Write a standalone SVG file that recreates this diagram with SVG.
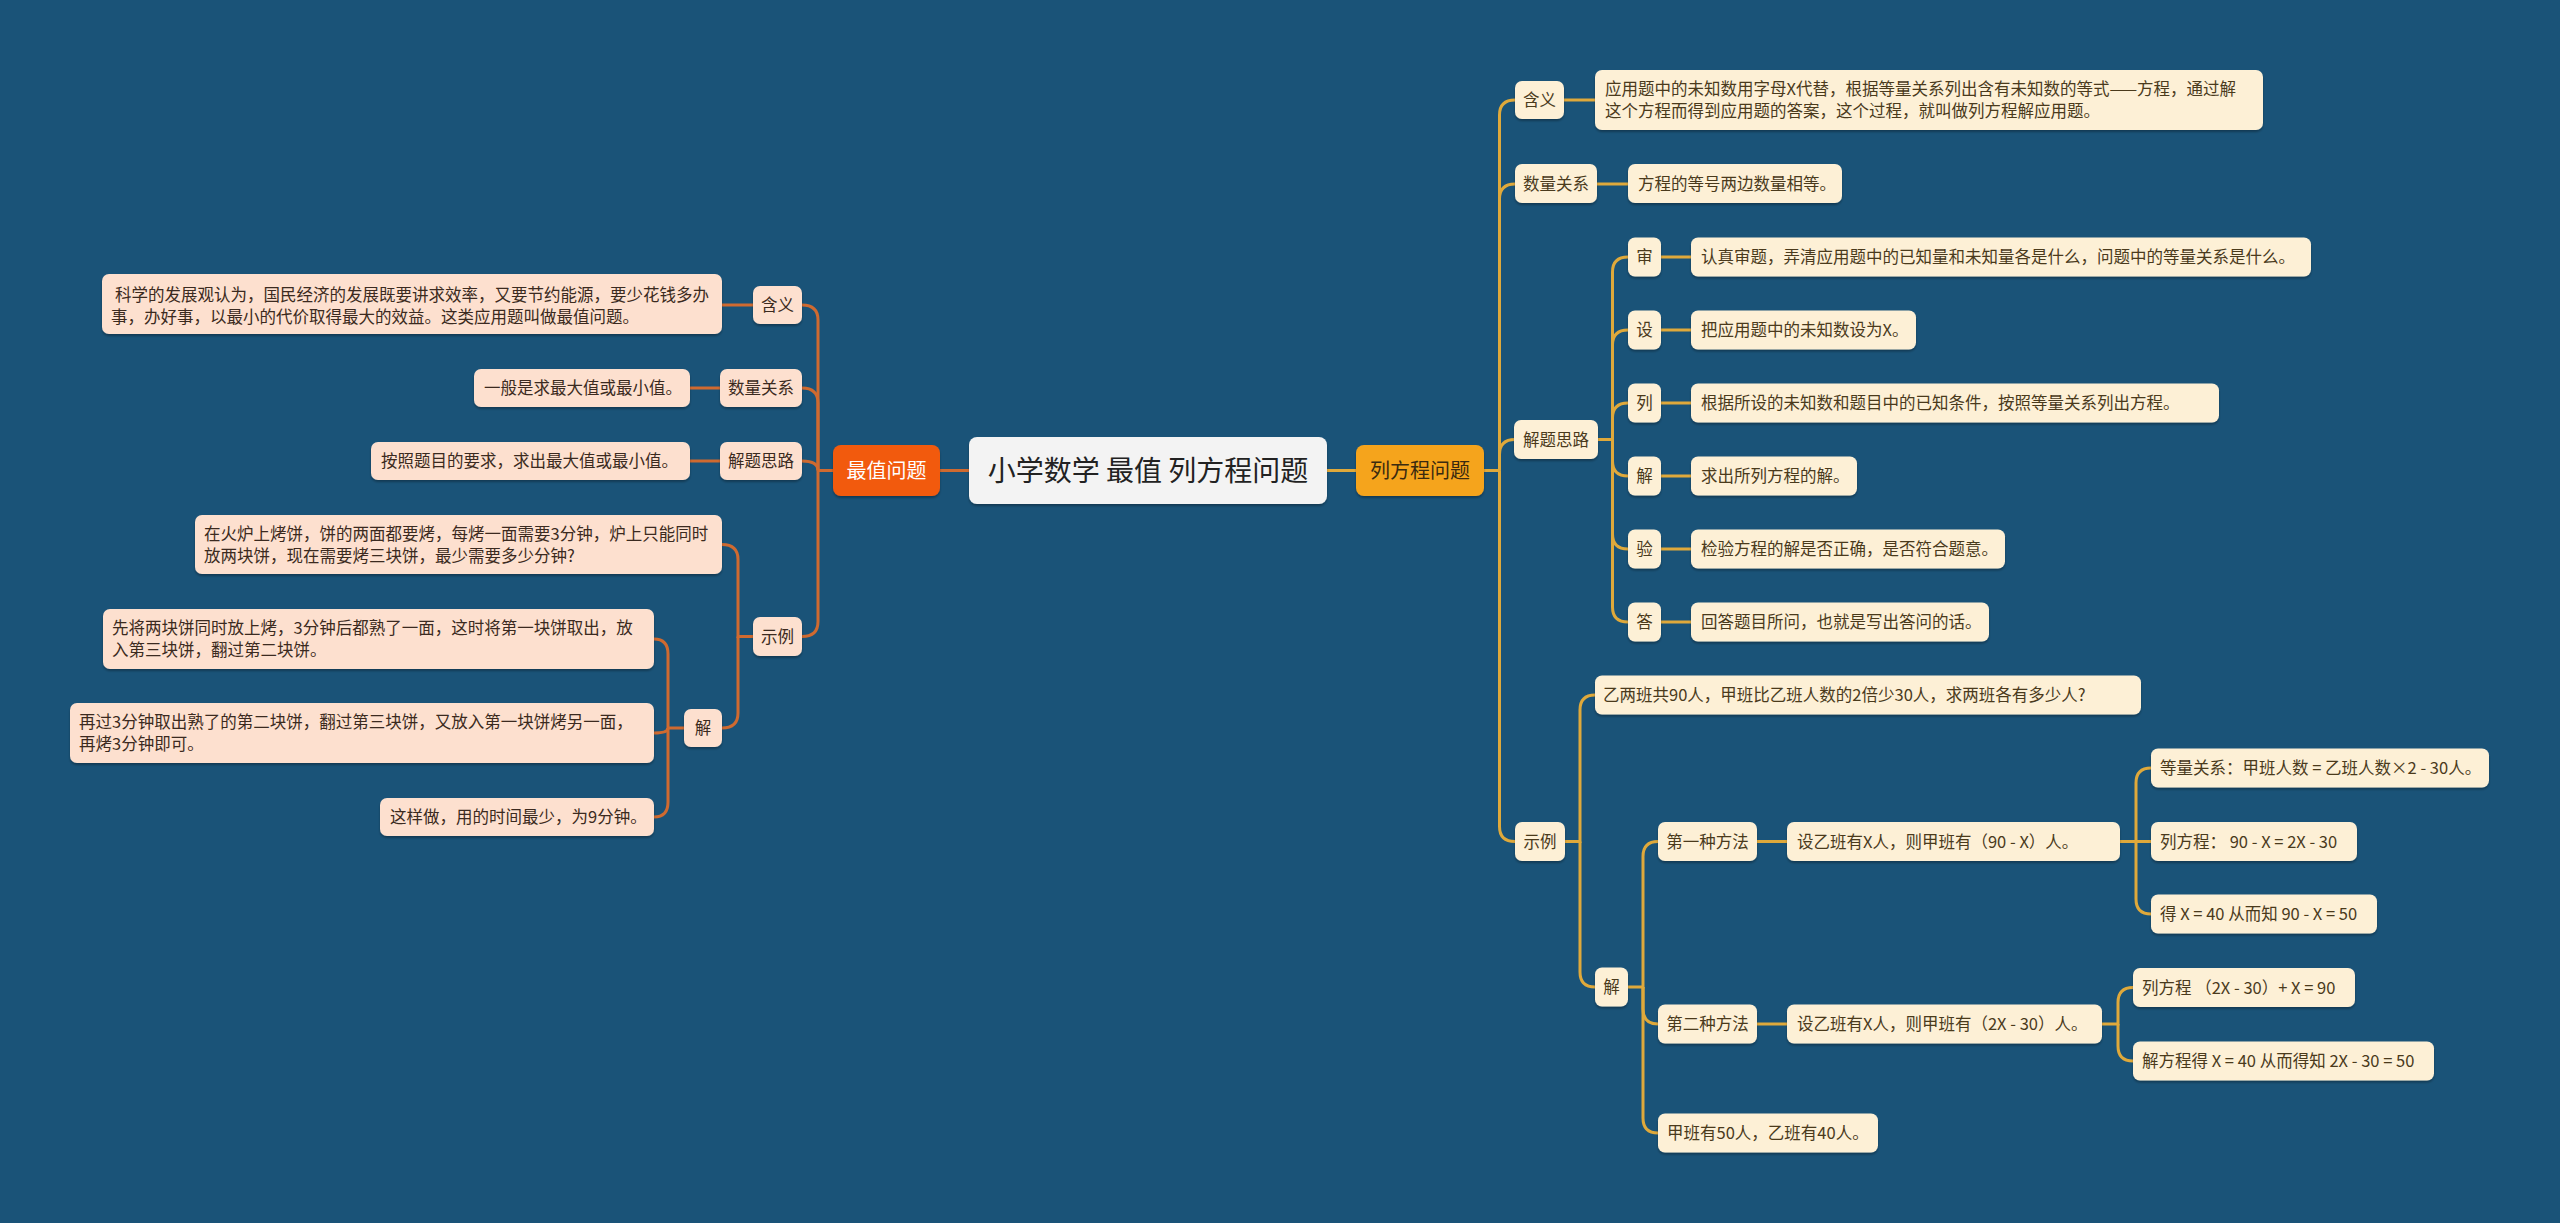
<svg xmlns="http://www.w3.org/2000/svg" width="2560" height="1223" viewBox="0 0 2560 1223">
<defs>
<filter id="sh" x="-10%" y="-20%" width="120%" height="150%">
<feDropShadow dx="0" dy="2" stdDeviation="1.2" flood-color="#000" flood-opacity="0.3"/>
</filter>
<style>
text{font-family:"Noto Sans CJK SC","Noto Sans",sans-serif;}
.lb{fill:#fde0cf;filter:url(#sh);}
.rb{fill:#fdf0d6;filter:url(#sh);}
.lt{font-size:16.5px;fill:#3b2a20;}
.rt{font-size:16.5px;fill:#4a3a1c;}
.c{text-anchor:middle;}
.lc{stroke:#cf6a30;stroke-width:3;fill:none;}
.rc{stroke:#dfa93b;stroke-width:3;fill:none;}
</style>
</defs>
<rect x="0" y="0" width="2560" height="1223" fill="#1a5378"/>

<g id="connectors">
<path class="lc" d="M940 470.5 H969"/>
<path class="rc" d="M1327 470.5 H1356"/>
<path class="lc" d="M833 470.5 H818"/>
<path class="lc" d="M818 470.5 V320 Q818 305 802 305"/>
<path class="lc" d="M818 470.5 V403 Q818 388 802 388"/>
<path class="lc" d="M818 470.5 Q818 461 802 461"/>
<path class="lc" d="M818 470.5 V621.5 Q818 636.5 802 636.5"/>
<path class="lc" d="M753 305 H722"/>
<path class="lc" d="M720 388 H690"/>
<path class="lc" d="M720 461 H690"/>
<path class="lc" d="M753 636.5 H738 V559.5 Q738 544.5 722 544.5"/>
<path class="lc" d="M738 636.5 V713 Q738 728 722 728"/>
<path class="lc" d="M684 728 H668 V654 Q668 639 654 639"/>
<path class="lc" d="M668 728 Q668 733 654 733"/>
<path class="lc" d="M668 728 V802 Q668 817 654 817"/>

<path class="rc" d="M1484 470.5 H1499.5"/>
<path class="rc" d="M1499.5 470.5 V115 Q1499.5 100 1515 100"/>
<path class="rc" d="M1499.5 470.5 V199 Q1499.5 184 1515 184"/>
<path class="rc" d="M1499.5 470.5 V454.5 Q1499.5 439.5 1515 439.5"/>
<path class="rc" d="M1499.5 470.5 V826.5 Q1499.5 841.5 1515 841.5"/>
<path class="rc" d="M1564 100 H1595"/>
<path class="rc" d="M1597 184 H1628"/>
<path class="rc" d="M1598 439.5 H1612.5"/>
<path class="rc" d="M1612.5 439.5 V272 Q1612.5 257 1628 257"/>
<path class="rc" d="M1612.5 439.5 V345 Q1612.5 330 1628 330"/>
<path class="rc" d="M1612.5 439.5 V418 Q1612.5 403 1628 403"/>
<path class="rc" d="M1612.5 439.5 V461 Q1612.5 476 1628 476"/>
<path class="rc" d="M1612.5 439.5 V534 Q1612.5 549 1628 549"/>
<path class="rc" d="M1612.5 439.5 V607 Q1612.5 622 1628 622"/>
<path class="rc" d="M1661 257 H1691 M1661 330 H1691 M1661 403 H1691 M1661 476 H1691 M1661 549 H1691 M1661 622 H1691"/>
<path class="rc" d="M1565 841.5 H1580 V710 Q1580 695 1595 695"/>
<path class="rc" d="M1580 841.5 V972 Q1580 987 1595 987"/>
<path class="rc" d="M1628 987 H1643 V856.5 Q1643 841.5 1658 841.5"/>
<path class="rc" d="M1643 987 V1009 Q1643 1024 1658 1024"/>
<path class="rc" d="M1643 987 V1118 Q1643 1133 1658 1133"/>
<path class="rc" d="M1757 841.5 H1787"/>
<path class="rc" d="M1757 1024 H1787"/>
<path class="rc" d="M2120 841.5 H2136 V783 Q2136 768 2151 768"/>
<path class="rc" d="M2136 841.5 H2151"/>
<path class="rc" d="M2136 841.5 V899 Q2136 914 2151 914"/>
<path class="rc" d="M2102 1024 H2118 V1002.5 Q2118 987.5 2133 987.5"/>
<path class="rc" d="M2118 1024 V1046 Q2118 1061 2133 1061"/>
</g>

<g id="root">
<rect x="969" y="437" width="358" height="67" rx="8" fill="#f3f3f3" filter="url(#sh)"/>
<text x="1148" y="480.5" class="c" font-size="28" fill="#222">小学数学 最值 列方程问题</text>
</g>
<g id="zuizhi">
<rect x="833" y="445" width="107" height="51" rx="8" fill="#f25a0e" filter="url(#sh)"/>
<text x="886.5" y="477.5" class="c" font-size="20" fill="#fff">最值问题</text>
</g>
<g id="liefangcheng">
<rect x="1356" y="445" width="128" height="51" rx="8" fill="#f5a41f" filter="url(#sh)"/>
<text x="1420" y="477.5" class="c" font-size="20" fill="#3a2a10">列方程问题</text>
</g>

<!-- Left side -->
<g id="l-hanyi"><rect class="lb" x="753" y="286" width="49" height="38" rx="7"/><text class="lt c" x="777.5" y="311">含义</text></g>
<g id="l-hanyi-t"><rect class="lb" x="102" y="274" width="620" height="60" rx="7"/>
<text class="lt" x="115" y="301">科学的发展观认为，国民经济的发展既要讲求效率，又要节约能源，要少花钱多办</text>
<text class="lt" x="111" y="323">事，办好事，以最小的代价取得最大的效益。这类应用题叫做最值问题。</text></g>
<g id="l-shuliang"><rect class="lb" x="720" y="369" width="82" height="38" rx="7"/><text class="lt c" x="761" y="394">数量关系</text></g>
<g id="l-shuliang-t"><rect class="lb" x="474" y="369" width="216" height="38" rx="7"/><text class="lt" x="484" y="394">一般是求最大值或最小值。</text></g>
<g id="l-silu"><rect class="lb" x="720" y="442" width="82" height="38" rx="7"/><text class="lt c" x="761" y="467">解题思路</text></g>
<g id="l-silu-t"><rect class="lb" x="371" y="442" width="319" height="38" rx="7"/><text class="lt" x="381" y="467">按照题目的要求，求出最大值或最小值。</text></g>
<g id="l-shili"><rect class="lb" x="753" y="617" width="49" height="39" rx="7"/><text class="lt c" x="777.5" y="642.5">示例</text></g>
<g id="l-shili-q"><rect class="lb" x="195" y="515" width="527" height="59" rx="7"/>
<text class="lt" x="204" y="540">在火炉上烤饼，饼的两面都要烤，每烤一面需要3分钟，炉上只能同时</text>
<text class="lt" x="204" y="562">放两块饼，现在需要烤三块饼，最少需要多少分钟?</text></g>
<g id="l-jie"><rect class="lb" x="684" y="709" width="38" height="38" rx="7"/><text class="lt c" x="703" y="734">解</text></g>
<g id="l-jie-1"><rect class="lb" x="103" y="609" width="551" height="60" rx="7"/>
<text class="lt" x="112" y="634">先将两块饼同时放上烤，3分钟后都熟了一面，这时将第一块饼取出，放</text>
<text class="lt" x="112" y="656">入第三块饼，翻过第二块饼。</text></g>
<g id="l-jie-2"><rect class="lb" x="70" y="703" width="584" height="60" rx="7"/>
<text class="lt" x="79" y="728">再过3分钟取出熟了的第二块饼，翻过第三块饼，又放入第一块饼烤另一面，</text>
<text class="lt" x="79" y="750">再烤3分钟即可。</text></g>
<g id="l-jie-3"><rect class="lb" x="380" y="798" width="274" height="38" rx="7"/><text class="lt" x="390" y="823">这样做，用的时间最少，为9分钟。</text></g>

<!-- Right side -->
<g id="r-hanyi"><rect class="rb" x="1515" y="81" width="49" height="38" rx="7"/><text class="rt c" x="1539.5" y="106">含义</text></g>
<g id="r-hanyi-t"><rect class="rb" x="1595" y="70" width="668" height="60" rx="7"/>
<text class="rt" x="1605" y="95">应用题中的未知数用字母X代替，根据等量关系列出含有未知数的等式——方程，通过解</text>
<text class="rt" x="1605" y="117">这个方程而得到应用题的答案，这个过程，就叫做列方程解应用题。</text></g>
<g id="r-shuliang"><rect class="rb" x="1515" y="164" width="82" height="39" rx="7"/><text class="rt c" x="1556" y="190">数量关系</text></g>
<g id="r-shuliang-t"><rect class="rb" x="1628" y="164" width="214" height="39" rx="7"/><text class="rt" x="1638" y="190">方程的等号两边数量相等。</text></g>
<g id="r-silu"><rect class="rb" x="1514" y="420" width="84" height="39" rx="7"/><text class="rt c" x="1556" y="445.5">解题思路</text></g>
<g id="r-shen"><rect class="rb" x="1628" y="237.5" width="33" height="39" rx="7"/><text class="rt c" x="1644.5" y="263">审</text></g>
<g id="r-shen-t"><rect class="rb" x="1691" y="237.5" width="620" height="39" rx="7"/><text class="rt" x="1701" y="263">认真审题，弄清应用题中的已知量和未知量各是什么，问题中的等量关系是什么。</text></g>
<g id="r-she"><rect class="rb" x="1628" y="310.5" width="33" height="39" rx="7"/><text class="rt c" x="1644.5" y="336">设</text></g>
<g id="r-she-t"><rect class="rb" x="1691" y="310.5" width="225" height="39" rx="7"/><text class="rt" x="1701" y="336">把应用题中的未知数设为X。</text></g>
<g id="r-lie"><rect class="rb" x="1628" y="383.5" width="33" height="39" rx="7"/><text class="rt c" x="1644.5" y="409">列</text></g>
<g id="r-lie-t"><rect class="rb" x="1691" y="383.5" width="528" height="39" rx="7"/><text class="rt" x="1701" y="409">根据所设的未知数和题目中的已知条件，按照等量关系列出方程。</text></g>
<g id="r-jie0"><rect class="rb" x="1628" y="456.5" width="33" height="39" rx="7"/><text class="rt c" x="1644.5" y="482">解</text></g>
<g id="r-jie0-t"><rect class="rb" x="1691" y="456.5" width="166" height="39" rx="7"/><text class="rt" x="1701" y="482">求出所列方程的解。</text></g>
<g id="r-yan"><rect class="rb" x="1628" y="529.5" width="33" height="39" rx="7"/><text class="rt c" x="1644.5" y="555">验</text></g>
<g id="r-yan-t"><rect class="rb" x="1691" y="529.5" width="314" height="39" rx="7"/><text class="rt" x="1701" y="555">检验方程的解是否正确，是否符合题意。</text></g>
<g id="r-da"><rect class="rb" x="1628" y="602.5" width="33" height="39" rx="7"/><text class="rt c" x="1644.5" y="628">答</text></g>
<g id="r-da-t"><rect class="rb" x="1691" y="602.5" width="298" height="39" rx="7"/><text class="rt" x="1701" y="628">回答题目所问，也就是写出答问的话。</text></g>
<g id="r-shili"><rect class="rb" x="1515" y="822" width="50" height="39" rx="7"/><text class="rt c" x="1540" y="847.5">示例</text></g>
<g id="r-shili-q"><rect class="rb" x="1595" y="675.5" width="546" height="39" rx="7"/><text class="rt" x="1603" y="701">乙两班共90人，甲班比乙班人数的2倍少30人，求两班各有多少人?</text></g>
<g id="r-jie"><rect class="rb" x="1595" y="967.5" width="33" height="39" rx="7"/><text class="rt c" x="1611.5" y="993">解</text></g>
<g id="r-m1"><rect class="rb" x="1658" y="822" width="99" height="39" rx="7"/><text class="rt c" x="1707.5" y="847.5">第一种方法</text></g>
<g id="r-m1-a"><rect class="rb" x="1787" y="822" width="333" height="39" rx="7"/><text class="rt" x="1797" y="847.5">设乙班有X人，则甲班有（90 - X）人。</text></g>
<g id="r-m1-b1"><rect class="rb" x="2151" y="748.5" width="338" height="39" rx="7"/><text class="rt" x="2160" y="774">等量关系：甲班人数 = 乙班人数×2 - 30人。</text></g>
<g id="r-m1-b2"><rect class="rb" x="2151" y="822" width="206" height="39" rx="7"/><text class="rt" x="2160" y="847.5">列方程： 90 - X = 2X - 30</text></g>
<g id="r-m1-b3"><rect class="rb" x="2151" y="894.5" width="226" height="39" rx="7"/><text class="rt" x="2160" y="920">得 X = 40 从而知 90 - X = 50</text></g>
<g id="r-m2"><rect class="rb" x="1658" y="1004.5" width="99" height="39" rx="7"/><text class="rt c" x="1707.5" y="1030">第二种方法</text></g>
<g id="r-m2-a"><rect class="rb" x="1787" y="1004.5" width="315" height="39" rx="7"/><text class="rt" x="1797" y="1030">设乙班有X人，则甲班有（2X - 30）人。</text></g>
<g id="r-m2-b1"><rect class="rb" x="2133" y="968" width="222" height="39" rx="7"/><text class="rt" x="2142" y="993.5">列方程 （2X - 30）+ X = 90</text></g>
<g id="r-m2-b2"><rect class="rb" x="2133" y="1041.5" width="301" height="39" rx="7"/><text class="rt" x="2142" y="1067">解方程得 X = 40 从而得知 2X - 30 = 50</text></g>
<g id="r-ans"><rect class="rb" x="1658" y="1113.5" width="220" height="39" rx="7"/><text class="rt" x="1667" y="1139">甲班有50人，乙班有40人。</text></g>
</svg>
